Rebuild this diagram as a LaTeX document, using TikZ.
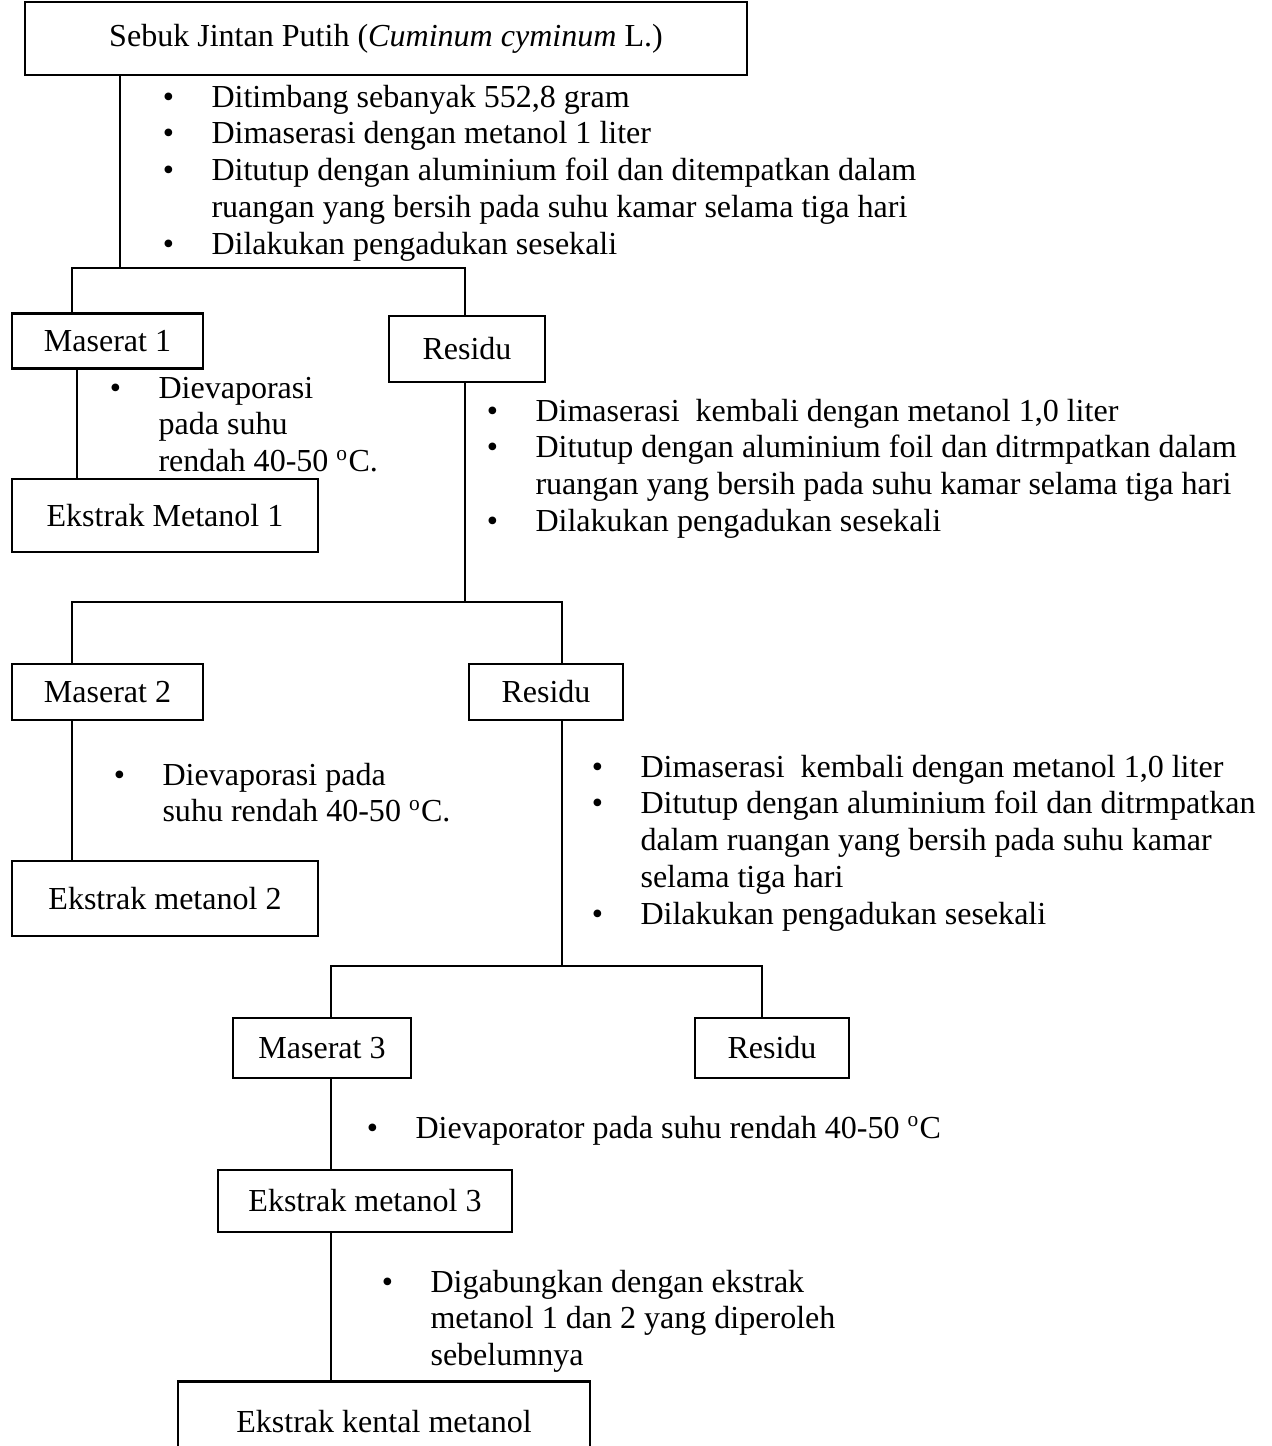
\documentclass[tikz,border=0pt]{standalone}
\usepackage{fontspec}
\setmainfont{Liberation Serif}
\newcommand{\bullist}[1]{\begin{tabular}[t]{@{}p{18.2pt}@{}l@{}}#1\end{tabular}}
\begin{document}
\begin{tikzpicture}[x=0.3745pt,y=-0.3745pt,
  font=\fontsize{12}{13.8}\selectfont,
  bx/.style 2 args={draw, line width=1pt, minimum width={#1*0.3745pt}, minimum height={#2*0.3745pt}, inner sep=0pt},
  ln/.style={line width=0.7pt},
  btext/.style={anchor=base west, inner sep=0pt}]
\useasboundingbox (0,0) rectangle (1272,1446);

% boxes
\node[bx={722}{73}] (top) at (386,38.5) {\raisebox{-2pt}{Sebuk Jintan Putih (\textit{Cuminum cyminum} L.)}};
\node[bx={191}{55}] (m1) at (107.5,341) {Maserat 1};
\node[bx={156}{66}] (r1) at (467,349) {Residu};
\node[bx={306}{73}] (e1) at (165,515.5) {Ekstrak Metanol 1};
\node[bx={191}{56}] (m2) at (107.5,692) {Maserat 2};
\node[bx={154}{56}] (r2) at (546,692) {Residu};
\node[bx={306}{75}] (e2) at (165,898.5) {Ekstrak metanol 2};
\node[bx={178}{60}] (m3) at (322,1048) {Maserat 3};
\node[bx={154}{60}] (r3) at (772,1048) {Residu};
\node[bx={294}{62}] (e3) at (365,1201) {Ekstrak metanol 3};
\node[bx={412}{80}, anchor=north] (ek) at (384,1380) {\raisebox{-4pt}{Ekstrak kental metanol}};

% bullet texts
\node[btext] (t1) at (162.4,107) {\bullist{%
\textbullet & Ditimbang sebanyak 552,8 gram\\
\textbullet & Dimaserasi dengan metanol 1 liter\\
\textbullet & Ditutup dengan aluminium foil dan ditempatkan dalam\\
 & ruangan yang bersih pada suhu kamar selama tiga hari\\
\textbullet & Dilakukan pengadukan sesekali}};
\node[btext] (t2) at (109.4,398) {\bullist{%
\textbullet & Dievaporasi\\
 & pada suhu\\
 & rendah 40-50 \textsuperscript{o}C.}};
\node[btext] (t3) at (486.4,421) {\bullist{%
\textbullet & Dimaserasi~ kembali dengan metanol 1,0 liter\\
\textbullet & Ditutup dengan aluminium foil dan ditrmpatkan dalam\\
 & ruangan yang bersih pada suhu kamar selama tiga hari\\
\textbullet & Dilakukan pengadukan sesekali}};
\node[btext] (t4) at (113.4,785) {\bullist{%
\textbullet & Dievaporasi pada\\
 & suhu rendah 40-50 \textsuperscript{o}C.}};
\node[btext] (t5) at (591.4,777) {\bullist{%
\textbullet & Dimaserasi~ kembali dengan metanol 1,0 liter\\
\textbullet & Ditutup dengan aluminium foil dan ditrmpatkan\\
 & dalam ruangan yang bersih pada suhu kamar\\
 & selama tiga hari\\
\textbullet & Dilakukan pengadukan sesekali}};
\node[btext] (t6) at (366.4,1138) {\bullist{%
\textbullet & Dievaporator pada suhu rendah 40-50 \textsuperscript{o}C}};
\node[btext] (t7) at (381.4,1292) {\bullist{%
\textbullet & Digabungkan dengan ekstrak\\
 & metanol 1 dan 2 yang diperoleh\\
 & sebelumnya}};

% junction coordinates
\coordinate (j0) at (120,268);
\coordinate (j0l) at (72,268);
\coordinate (j0r) at (465,268);
\coordinate (c1) at (77,450);
\coordinate (j1) at (465,602);
\coordinate (j1l) at (72,602);
\coordinate (j1r) at (562,602);
\coordinate (j2) at (562,966);
\coordinate (j2l) at (331,966);
\coordinate (j2r) at (762,966);

% connectors
\draw[ln] (top.south -| j0) -- (j0);
\draw[ln] (m1.north -| j0l) -- (j0l) -- (j0r) -- (r1.north -| j0r);
\draw[ln] (m1.south -| c1) -- (e1.north -| c1);
\draw[ln] (r1.south -| j1) -- (j1);
\draw[ln] (m2.north -| j1l) -- (j1l) -- (j1r) -- (r2.north -| j1r);
\draw[ln] (m2.south -| j1l) -- (e2.north -| j1l);
\draw[ln] (r2.south -| j2) -- (j2);
\draw[ln] (m3.north -| j2l) -- (j2l) -- (j2r) -- (r3.north -| j2r);
\draw[ln] (m3.south -| j2l) -- (e3.north -| j2l);
\draw[ln] (e3.south -| j2l) -- (ek.north -| j2l);
\end{tikzpicture}
\end{document}
